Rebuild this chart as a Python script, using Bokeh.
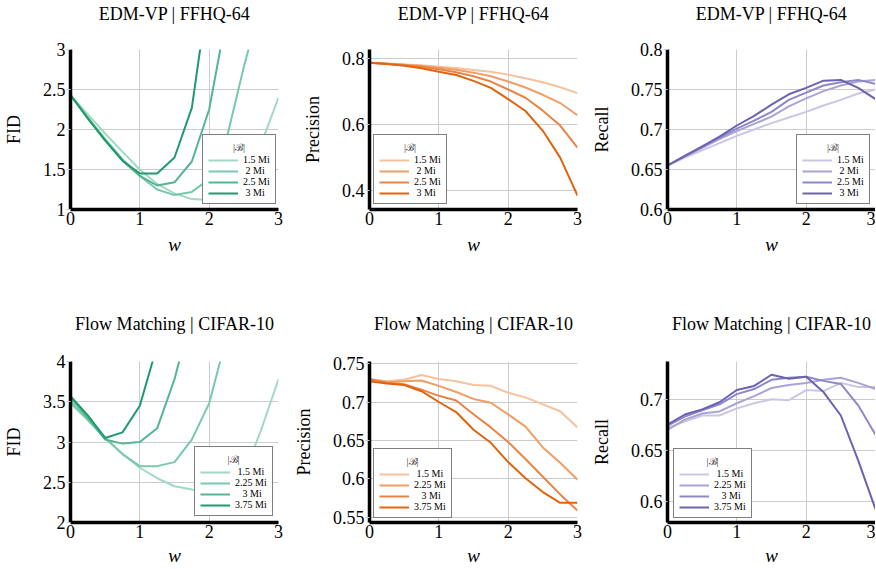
from bokeh.plotting import figure
from bokeh.layouts import column, row
from bokeh.models import (Range1d, FixedTicker, CustomJSTickFormatter, Legend, LegendItem,
                          LinearAxis)
from bokeh.embed import file_html
from bokeh.resources import INLINE

# ---------------- data ----------------
w = [0, 0.25, 0.5, 0.75, 1.0, 1.25, 1.5, 1.75, 2.0, 2.25, 2.5, 2.75, 3.0]

edm_labels = ["1.5 Mi", "2 Mi", "2.5 Mi", "3 Mi"]
fm_labels = ["1.5 Mi", "2.25 Mi", "3 Mi", "3.75 Mi"]

# EDM-VP | FFHQ-64 : FID
edm_fid_15 = [2.43, 2.19, 1.95, 1.72, 1.50, 1.32, 1.20, 1.13, 1.12, 1.20, 1.45, 1.82, 2.40]
edm_fid_2 = [2.43, 2.15, 1.88, 1.63, 1.42, 1.25, 1.18, 1.22, 1.38, 1.88, 2.78, 3.60]
edm_fid_25 = [2.43, 2.14, 1.87, 1.61, 1.42, 1.30, 1.34, 1.60, 2.25, 3.42]
edm_fid_3 = [2.43, 2.14, 1.86, 1.61, 1.45, 1.45, 1.65, 2.27, 3.80]

# EDM-VP | FFHQ-64 : Precision
edm_prec_15 = [0.787, 0.785, 0.782, 0.779, 0.775, 0.771, 0.765, 0.760, 0.751, 0.740, 0.728, 0.713, 0.695]
edm_prec_2 = [0.787, 0.784, 0.781, 0.777, 0.772, 0.766, 0.757, 0.746, 0.730, 0.712, 0.690, 0.665, 0.628]
edm_prec_25 = [0.787, 0.784, 0.780, 0.775, 0.767, 0.758, 0.746, 0.730, 0.706, 0.681, 0.642, 0.597, 0.530]
edm_prec_3 = [0.787, 0.783, 0.778, 0.770, 0.760, 0.750, 0.732, 0.711, 0.677, 0.641, 0.581, 0.500, 0.385]

# EDM-VP | FFHQ-64 : Recall
edm_rec_15 = [0.655, 0.665, 0.674, 0.683, 0.692, 0.700, 0.708, 0.715, 0.722, 0.730, 0.737, 0.745, 0.750]
edm_rec_2 = [0.655, 0.666, 0.677, 0.688, 0.698, 0.707, 0.716, 0.729, 0.739, 0.748, 0.755, 0.760, 0.762]
edm_rec_25 = [0.655, 0.667, 0.678, 0.690, 0.701, 0.711, 0.722, 0.737, 0.746, 0.755, 0.759, 0.762, 0.757]
edm_rec_3 = [0.655, 0.667, 0.679, 0.691, 0.705, 0.717, 0.731, 0.744, 0.752, 0.761, 0.762, 0.752, 0.738]

# Flow Matching | CIFAR-10 : FID
fm_fid_15 = [3.48, 3.27, 3.05, 2.85, 2.68, 2.55, 2.45, 2.41, 2.38, 2.42, 2.60, 3.15, 3.78]
fm_fid_225 = [3.50, 3.28, 3.05, 2.85, 2.70, 2.70, 2.75, 3.03, 3.48, 4.30]
fm_fid_3 = [3.55, 3.30, 3.03, 2.98, 3.00, 3.17, 3.78, 4.60]
fm_fid_375 = [3.57, 3.33, 3.05, 3.12, 3.45, 4.20]

# Flow Matching | CIFAR-10 : Precision
fm_prec_15 = [0.730, 0.727, 0.729, 0.735, 0.730, 0.727, 0.722, 0.721, 0.712, 0.706, 0.697, 0.688, 0.667]
fm_prec_225 = [0.728, 0.726, 0.727, 0.728, 0.721, 0.713, 0.704, 0.699, 0.684, 0.668, 0.641, 0.621, 0.599]
fm_prec_3 = [0.730, 0.725, 0.723, 0.716, 0.708, 0.702, 0.684, 0.667, 0.648, 0.626, 0.603, 0.580, 0.559]
fm_prec_375 = [0.727, 0.724, 0.722, 0.714, 0.700, 0.687, 0.664, 0.647, 0.622, 0.601, 0.583, 0.569, 0.569]

# Flow Matching | CIFAR-10 : Recall
fm_rec_15 = [0.672, 0.678, 0.684, 0.684, 0.691, 0.696, 0.700, 0.699, 0.709, 0.708, 0.716, 0.712, 0.712]
fm_rec_225 = [0.670, 0.680, 0.686, 0.688, 0.696, 0.703, 0.711, 0.714, 0.716, 0.719, 0.721, 0.716, 0.710]
fm_rec_3 = [0.674, 0.683, 0.689, 0.695, 0.705, 0.710, 0.719, 0.721, 0.722, 0.718, 0.715, 0.694, 0.665]
fm_rec_375 = [0.675, 0.685, 0.690, 0.697, 0.709, 0.713, 0.724, 0.720, 0.722, 0.707, 0.684, 0.640, 0.592]

x_ticks = [0, 1, 2, 3]
fid_edm_ticks = [1, 1.5, 2, 2.5, 3]
prec_edm_ticks = [0.4, 0.6, 0.8]
rec_edm_ticks = [0.6, 0.65, 0.7, 0.75, 0.8]
fid_fm_ticks = [2, 2.5, 3, 3.5, 4]
prec_fm_ticks = [0.55, 0.6, 0.65, 0.7, 0.75]
rec_fm_ticks = [0.6, 0.65, 0.7]

greens = ["#a2d9c2", "#78c9a9", "#52b690", "#1f9a6c"]
oranges = ["#f6c29d", "#f09d66", "#ea8445", "#e0640f"]
purples = ["#cac7e5", "#a9a4d6", "#8d88c9", "#6a62b3"]

SERIF = "Liberation Serif"
NB = "\u00a0"


def panel(width, height, bl, br, bt, bb, yr, yticks, ylabel, series, labels,
          colors, title, leg_loc, title_standoff, w_standoff, label_pads, title_pad):
    p = figure(width=width, height=height, x_range=Range1d(0, 3), y_range=Range1d(*yr),
               output_backend="svg", toolbar_location=None, title=None,
               min_border_left=bl, min_border_right=br, min_border_top=bt, min_border_bottom=bb)
    p.outline_line_color = None
    p.background_fill_color = "white"
    p.border_fill_color = "white"

    fmt = CustomJSTickFormatter(code="return Number(tick.toFixed(2)).toString();")
    p.xaxis.ticker = FixedTicker(ticks=x_ticks)
    p.yaxis.ticker = FixedTicker(ticks=yticks)
    for ax in (p.xaxis[0], p.yaxis[0]):
        ax.formatter = fmt
        ax.axis_line_width = 3.5
        ax.axis_line_color = "black"
        ax.major_tick_line_color = "#cccccc"
        ax.minor_tick_line_color = None
        ax.major_label_text_font = SERIF
        ax.major_label_text_font_size = "18px"
        ax.major_label_text_color = "black"
        ax.axis_label_text_font = SERIF
        ax.axis_label_text_color = "black"
    p.xaxis.major_tick_out = 0
    p.xaxis.major_tick_in = 0
    p.xaxis.major_label_standoff = 2
    p.xaxis.axis_label = "w"
    p.xaxis.axis_label_text_font_size = "19px"
    p.xaxis.axis_label_text_font_style = "italic"
    p.xaxis.axis_label_standoff = w_standoff
    p.yaxis.major_tick_out = 4
    p.yaxis.major_tick_in = 0
    p.yaxis.major_label_standoff = 1
    p.yaxis.axis_label = ylabel
    p.yaxis.axis_label_text_font_size = "18px"
    p.yaxis.axis_label_text_font_style = "normal"
    p.yaxis.axis_label_standoff = 16
    p.xgrid.grid_line_color = "#cccccc"
    p.ygrid.grid_line_color = "#cccccc"
    p.xgrid.grid_line_width = 1
    p.ygrid.grid_line_width = 1

    # panel title: the label of a bare axis above the frame
    top = LinearAxis(ticker=FixedTicker(ticks=[]), axis_line_color=None,
                     major_tick_line_color=None, minor_tick_line_color=None,
                     major_tick_out=0, major_tick_in=0, major_label_standoff=0,
                     axis_label=title, axis_label_text_font=SERIF,
                     axis_label_text_font_size="18px", axis_label_text_font_style="normal",
                     axis_label_text_color="black", axis_label_standoff=title_standoff)
    p.add_layout(top, "above")

    items = []
    for vals, lab, col, pad in zip(series, labels, colors, label_pads):
        r = p.line(w[:len(vals)], vals, line_color=col, line_width=2)
        items.append(LegendItem(label=NB * pad + lab, renderers=[r]))
    leg = Legend(items=items, location=leg_loc, title=NB * title_pad + "|\u212c|",
                 title_text_font=SERIF, title_text_font_size="10px", title_text_font_style="normal",
                 title_text_color="#333333",
                 title_standoff=0, label_text_font=SERIF, label_text_font_size="10px",
                 label_text_color="black",
                 label_standoff=5, label_height=10, glyph_height=10, glyph_width=30,
                 spacing=0, padding=5, margin=0, border_line_color="black",
                 border_line_width=1.5, background_fill_color="white", background_fill_alpha=1.0)
    p.add_layout(leg)
    return p


t1 = "EDM-VP | FFHQ-64"
t2 = "Flow Matching | CIFAR-10"
edm_pads = [0, 1, 0, 1]
fm_pads = [1, 0, 3, 0]

# row 1: top 47, frame 162, bottom 96 ; row 2: top 56, frame 161, bottom 47
p1 = panel(290, 305, 70, 12, 47, 96, (1, 3), fid_edm_ticks, "FID",
           [edm_fid_15, edm_fid_2, edm_fid_25, edm_fid_3], edm_labels, greens, t1,
           (132, 5), 26, 6, edm_pads, 10)
p2 = panel(298, 305, 79, 11, 47, 96, (0.343, 0.827), prec_edm_ticks, "Precision",
           [edm_prec_15, edm_prec_2, edm_prec_25, edm_prec_3], edm_labels, oranges, t1,
           (4, 5), 26, 6, edm_pads, 10)
p3 = panel(287, 305, 79, 0, 47, 96, (0.6, 0.8), rec_edm_ticks, "Recall",
           [edm_rec_15, edm_rec_2, edm_rec_25, edm_rec_3], edm_labels, purples, t1,
           (129, 5), 26, 6, edm_pads, 10)
p4 = panel(290, 264, 70, 12, 56, 47, (2, 4), fid_fm_ticks, "FID",
           [fm_fid_15, fm_fid_225, fm_fid_3, fm_fid_375], fm_labels, greens, t2,
           (124, 6), 28, 4, fm_pads, 11)
p5 = panel(298, 264, 79, 11, 56, 47, (0.5435, 0.7526), prec_fm_ticks, "Precision",
           [fm_prec_15, fm_prec_225, fm_prec_3, fm_prec_375], fm_labels, oranges, t2,
           (4, 4), 28, 4, fm_pads, 11)
p6 = panel(287, 264, 79, 0, 56, 47, (0.579, 0.737), rec_fm_ticks, "Recall",
           [fm_rec_15, fm_rec_225, fm_rec_3, fm_rec_375], fm_labels, purples, t2,
           (6, 4), 28, 4, fm_pads, 11)

layout = column(row(p1, p2, p3), row(p4, p5, p6))
open("out.html", "w").write(file_html(layout, INLINE))
